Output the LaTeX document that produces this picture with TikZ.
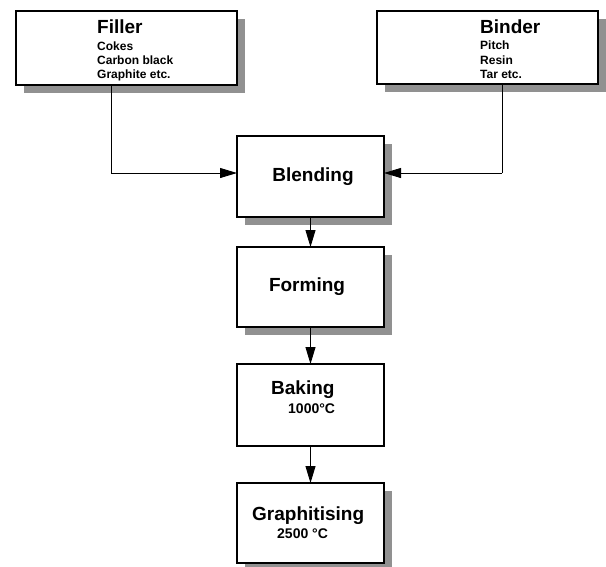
\documentclass[tikz,border=0pt]{standalone}
\usepackage{fontspec}
\setmainfont{Liberation Sans}
\usetikzlibrary{arrows.meta,shadows}
\definecolor{shadowc}{RGB}{145,145,145}
\begin{document}
\begin{tikzpicture}[x=1pt,y=-1pt,
  box/.style={draw=black,line width=1.1pt,fill=white,inner sep=0pt,outer sep=0pt,rectangle},
  shbox/.style={box,drop shadow={shadow xshift=8pt,shadow yshift=-8pt,fill=shadowc,opacity=1}},
  title/.style={font=\fontsize{19}{22}\selectfont\bfseries,inner sep=0pt},
  item/.style={font=\fontsize{12}{14}\selectfont\bfseries,inner sep=0pt,anchor=base west},
  temp/.style={font=\fontsize{14}{16}\selectfont\bfseries,inner sep=0pt,anchor=base west},
  link/.style={line width=0.9pt,draw=black},
  arrow/.style={link,-{Triangle[length=17pt,width=10pt]}}]
\useasboundingbox (0,0) rectangle (606,566);
% boxes
\node[shbox,minimum width=221pt,minimum height=74pt] (filler) at (126.5,48) {};
\node[shbox,minimum width=221pt,minimum height=73pt] (binder) at (487.5,47.5) {};
\node[shbox,minimum width=147pt,minimum height=81pt] (blending) at (310.5,176.5) {};
\node[shbox,minimum width=147pt,minimum height=80pt] (forming) at (310.5,287) {};
\node[box,minimum width=147pt,minimum height=82pt] (baking) at (310.5,405) {};
\node[shbox,minimum width=147pt,minimum height=80pt] (graph) at (310.5,523) {};
% texts
\node[title,anchor=base west] (tfiller) at (97,33) {Filler};
\node[item] (t1) at (97,50) {Cokes};
\node[item] (t2) at (97,64) {Carbon black};
\node[item] (t3) at (97,78) {Graphite etc.};
\node[title,anchor=base west] (tbinder) at (480,33) {Binder};
\node[item] (t4) at (480,49) {Pitch};
\node[item] (t5) at (480,64) {Resin};
\node[item] (t6) at (480,78) {Tar etc.};
\node[title,anchor=base] (tblend) at (313,181) {Blending};
\node[title,anchor=base] (tform) at (307,291) {Forming};
\node[title,anchor=base west] (tbake) at (271,394) {Baking};
\node[temp] (tb2) at (288,413) {1000°C};
\node[title,anchor=base west] (tgraph) at (252,520) {Graphitising};
\node[temp] (tg2) at (277,538) {2500 °C};
% connectors
\coordinate (fx) at (111,85);
\coordinate (bx) at (502,84);
\coordinate (jy) at (0,173);
\draw[link] (fx) -- (fx |- jy);
\draw[arrow] (fx |- jy) -- (blending.west |- jy);
\draw[link] (bx) -- (bx |- jy);
\draw[arrow] (bx |- jy) -- (blending.east |- jy);
\draw[arrow] (blending.south) -- (forming.north);
\draw[arrow] (forming.south) -- (baking.north);
\draw[arrow] (baking.south) -- (graph.north);
\end{tikzpicture}
\end{document}
